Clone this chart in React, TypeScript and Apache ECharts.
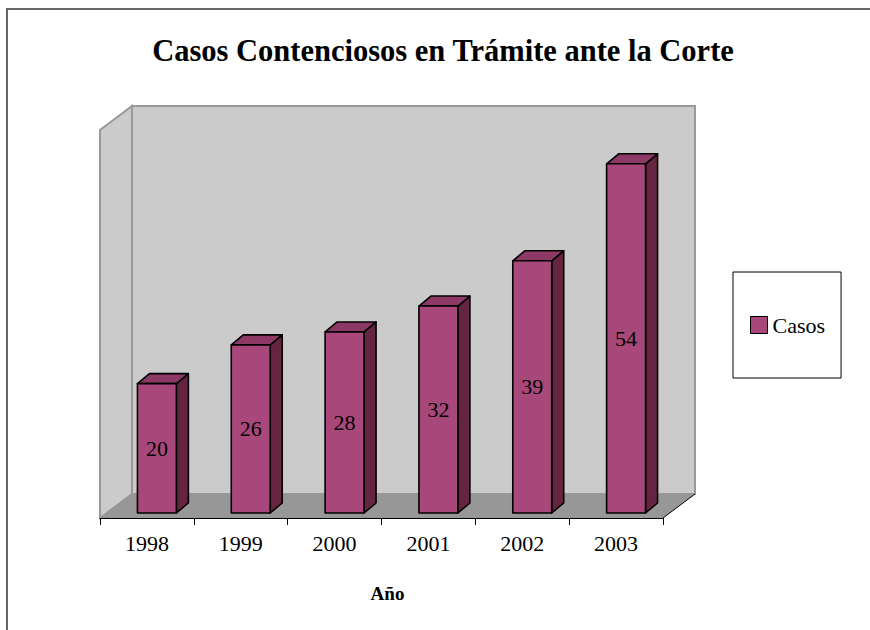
import React, { useEffect, useRef } from "react";
import * as echarts from "echarts";

const TITLE = "Casos Contenciosos en Trámite ante la Corte";
const X_NAME = "Año";
const SERIES_NAME = "Casos";
const CATEGORIES = ["1998", "1999", "2000", "2001", "2002", "2003"];
const VALUES = [20, 26, 28, 32, 39, 54];
const Y_MIN = 0;
const Y_MAX = 60;

const FONT = '"Liberation Serif", "Times New Roman", serif';
const FRONT = "#A8487A";
const TOP = "#8C3A65";
const SIDE = "#65243F";

export default function App() {
  const ref = useRef<HTMLDivElement>(null);

  useEffect(() => {
    if (!ref.current) return;
    const chart = echarts.init(ref.current, undefined, { renderer: "svg" });

    const wallDx = 32;
    const wallDy = -24;

    const option: any = {
      animation: false,
      backgroundColor: "#ffffff",
      grid: { left: 100, right: 207, top: 130, bottom: 112, containLabel: false },
      legend: {
        show: true,
        left: 733,
        top: 272,
        orient: "vertical",
        padding: [42, 16, 42, 17],
        borderColor: "#000000",
        borderWidth: 1,
        backgroundColor: "#ffffff",
        itemWidth: 17,
        itemHeight: 17,
        itemGap: 5,
        textStyle: { fontSize: 22, fontFamily: FONT, color: "#000000" },
        data: [
          {
            name: SERIES_NAME,
            icon: "rect",
            itemStyle: { color: FRONT, borderColor: "#000000", borderWidth: 1 },
          },
        ],
      },
      graphic: [
        {
          type: "rect",
          shape: { x: 6, y: 8, width: 864, height: 2 },
          style: { fill: "#666666" },
          silent: true,
        },
        {
          type: "rect",
          shape: { x: 6, y: 8, width: 2, height: 622 },
          style: { fill: "#666666" },
          silent: true,
        },
        {
          type: "text",
          x: 443,
          y: 51,
          style: {
            text: TITLE,
            align: "center",
            verticalAlign: "middle",
            font: `bold 30.5px ${FONT}`,
            fill: "#000000",
          },
        },
      ],
      xAxis: {
        type: "category",
        data: CATEGORIES,
        boundaryGap: true,
        axisLine: { show: true, lineStyle: { color: "#000000", width: 1 } },
        axisTick: { show: true, length: 7, lineStyle: { color: "#000000", width: 1 } },
        axisLabel: { fontSize: 22, fontFamily: FONT, color: "#000000", margin: 14 },
        splitLine: { show: false },
        name: X_NAME,
        nameLocation: "middle",
        nameGap: 66,
        nameTextStyle: {
          fontSize: 19,
          fontWeight: "bold",
          fontFamily: FONT,
          color: "#000000",
          padding: [0, 0, 0, 12],
        },
        z: 5,
      },
      yAxis: {
        type: "value",
        min: Y_MIN,
        max: Y_MAX,
        show: false,
      },
      series: [
        {
          type: "custom",
          name: "walls",
          silent: true,
          z: 1,
          data: [[0, 0]],
          renderItem: (params: any, api: any) => {
            const o = api.coord([0, 0]);
            const bw = api.size([1, 0])[0];
            const x0 = o[0] - bw / 2;
            const y0 = o[1];
            const x1 = x0 + bw * CATEGORIES.length;
            const yt = api.coord([0, Y_MAX])[1];
            const dx = wallDx;
            const dy = wallDy;
            return {
              type: "group",
              children: [
                {
                  type: "polygon",
                  shape: {
                    points: [
                      [x0 + dx, yt + dy],
                      [x1 + dx, yt + dy],
                      [x1 + dx, y0 + dy],
                      [x0 + dx, y0 + dy],
                    ],
                  },
                  style: { fill: "#cbcbcb", stroke: "#999999", lineWidth: 2 },
                },
                {
                  type: "polygon",
                  shape: {
                    points: [
                      [x0, yt],
                      [x0 + dx, yt + dy],
                      [x0 + dx, y0 + dy],
                      [x0, y0],
                    ],
                  },
                  style: { fill: "#cbcbcb", stroke: "#999999", lineWidth: 2 },
                },
                {
                  type: "polygon",
                  shape: {
                    points: [
                      [x0, y0],
                      [x0 + dx, y0 + dy],
                      [x1 + dx, y0 + dy],
                      [x1, y0],
                    ],
                  },
                  style: { fill: "#979797", stroke: "none" },
                },
                {
                  type: "line",
                  shape: { x1: x1, y1: y0, x2: x1 + dx, y2: y0 + dy },
                  style: { stroke: "#000000", lineWidth: 1 },
                },
              ],
            };
          },
        },
        {
          type: "custom",
          name: SERIES_NAME,
          z: 3,
          itemStyle: { color: FRONT },
          data: CATEGORIES.map((c, i) => [i, VALUES[i]]),
          renderItem: (params: any, api: any) => {
            const i = api.value(0);
            const v = api.value(1);
            const base = api.coord([i, 0]);
            const top = api.coord([i, v]);
            const bw = api.size([1, 0])[0];
            const w = bw * 0.415;
            const ox = 10;
            const oy = -5;
            const ddx = 12;
            const ddy = -10;
            const xl = base[0] - w / 2 + ox;
            const xr = xl + w;
            const yb = base[1] + oy;
            const yt = top[1] + oy;
            const stroke = { stroke: "#000000", lineWidth: 1.6, lineJoin: "round" };
            return {
              type: "group",
              children: [
                {
                  type: "polygon",
                  shape: { points: [[xr, yt], [xr + ddx, yt + ddy], [xr + ddx, yb + ddy], [xr, yb]] },
                  style: { fill: SIDE, ...stroke },
                },
                {
                  type: "polygon",
                  shape: { points: [[xl, yt], [xl + ddx, yt + ddy], [xr + ddx, yt + ddy], [xr, yt]] },
                  style: { fill: TOP, ...stroke },
                },
                {
                  type: "polygon",
                  shape: { points: [[xl, yt], [xr, yt], [xr, yb], [xl, yb]] },
                  style: { fill: FRONT, ...stroke },
                },
                {
                  type: "text",
                  x: (xl + xr) / 2,
                  y: (yt + yb) / 2,
                  style: {
                    text: String(v),
                    align: "center",
                    verticalAlign: "middle",
                    font: `22px ${FONT}`,
                    fill: "#000000",
                  },
                },
              ],
            };
          },
        },
      ],
    };

    chart.setOption(option);
    return () => chart.dispose();
  }, []);

  return (
    <div
      ref={ref}
      style={{ position: "absolute", left: 0, top: 0, width: 870, height: 630 }}
    />
  );
}
